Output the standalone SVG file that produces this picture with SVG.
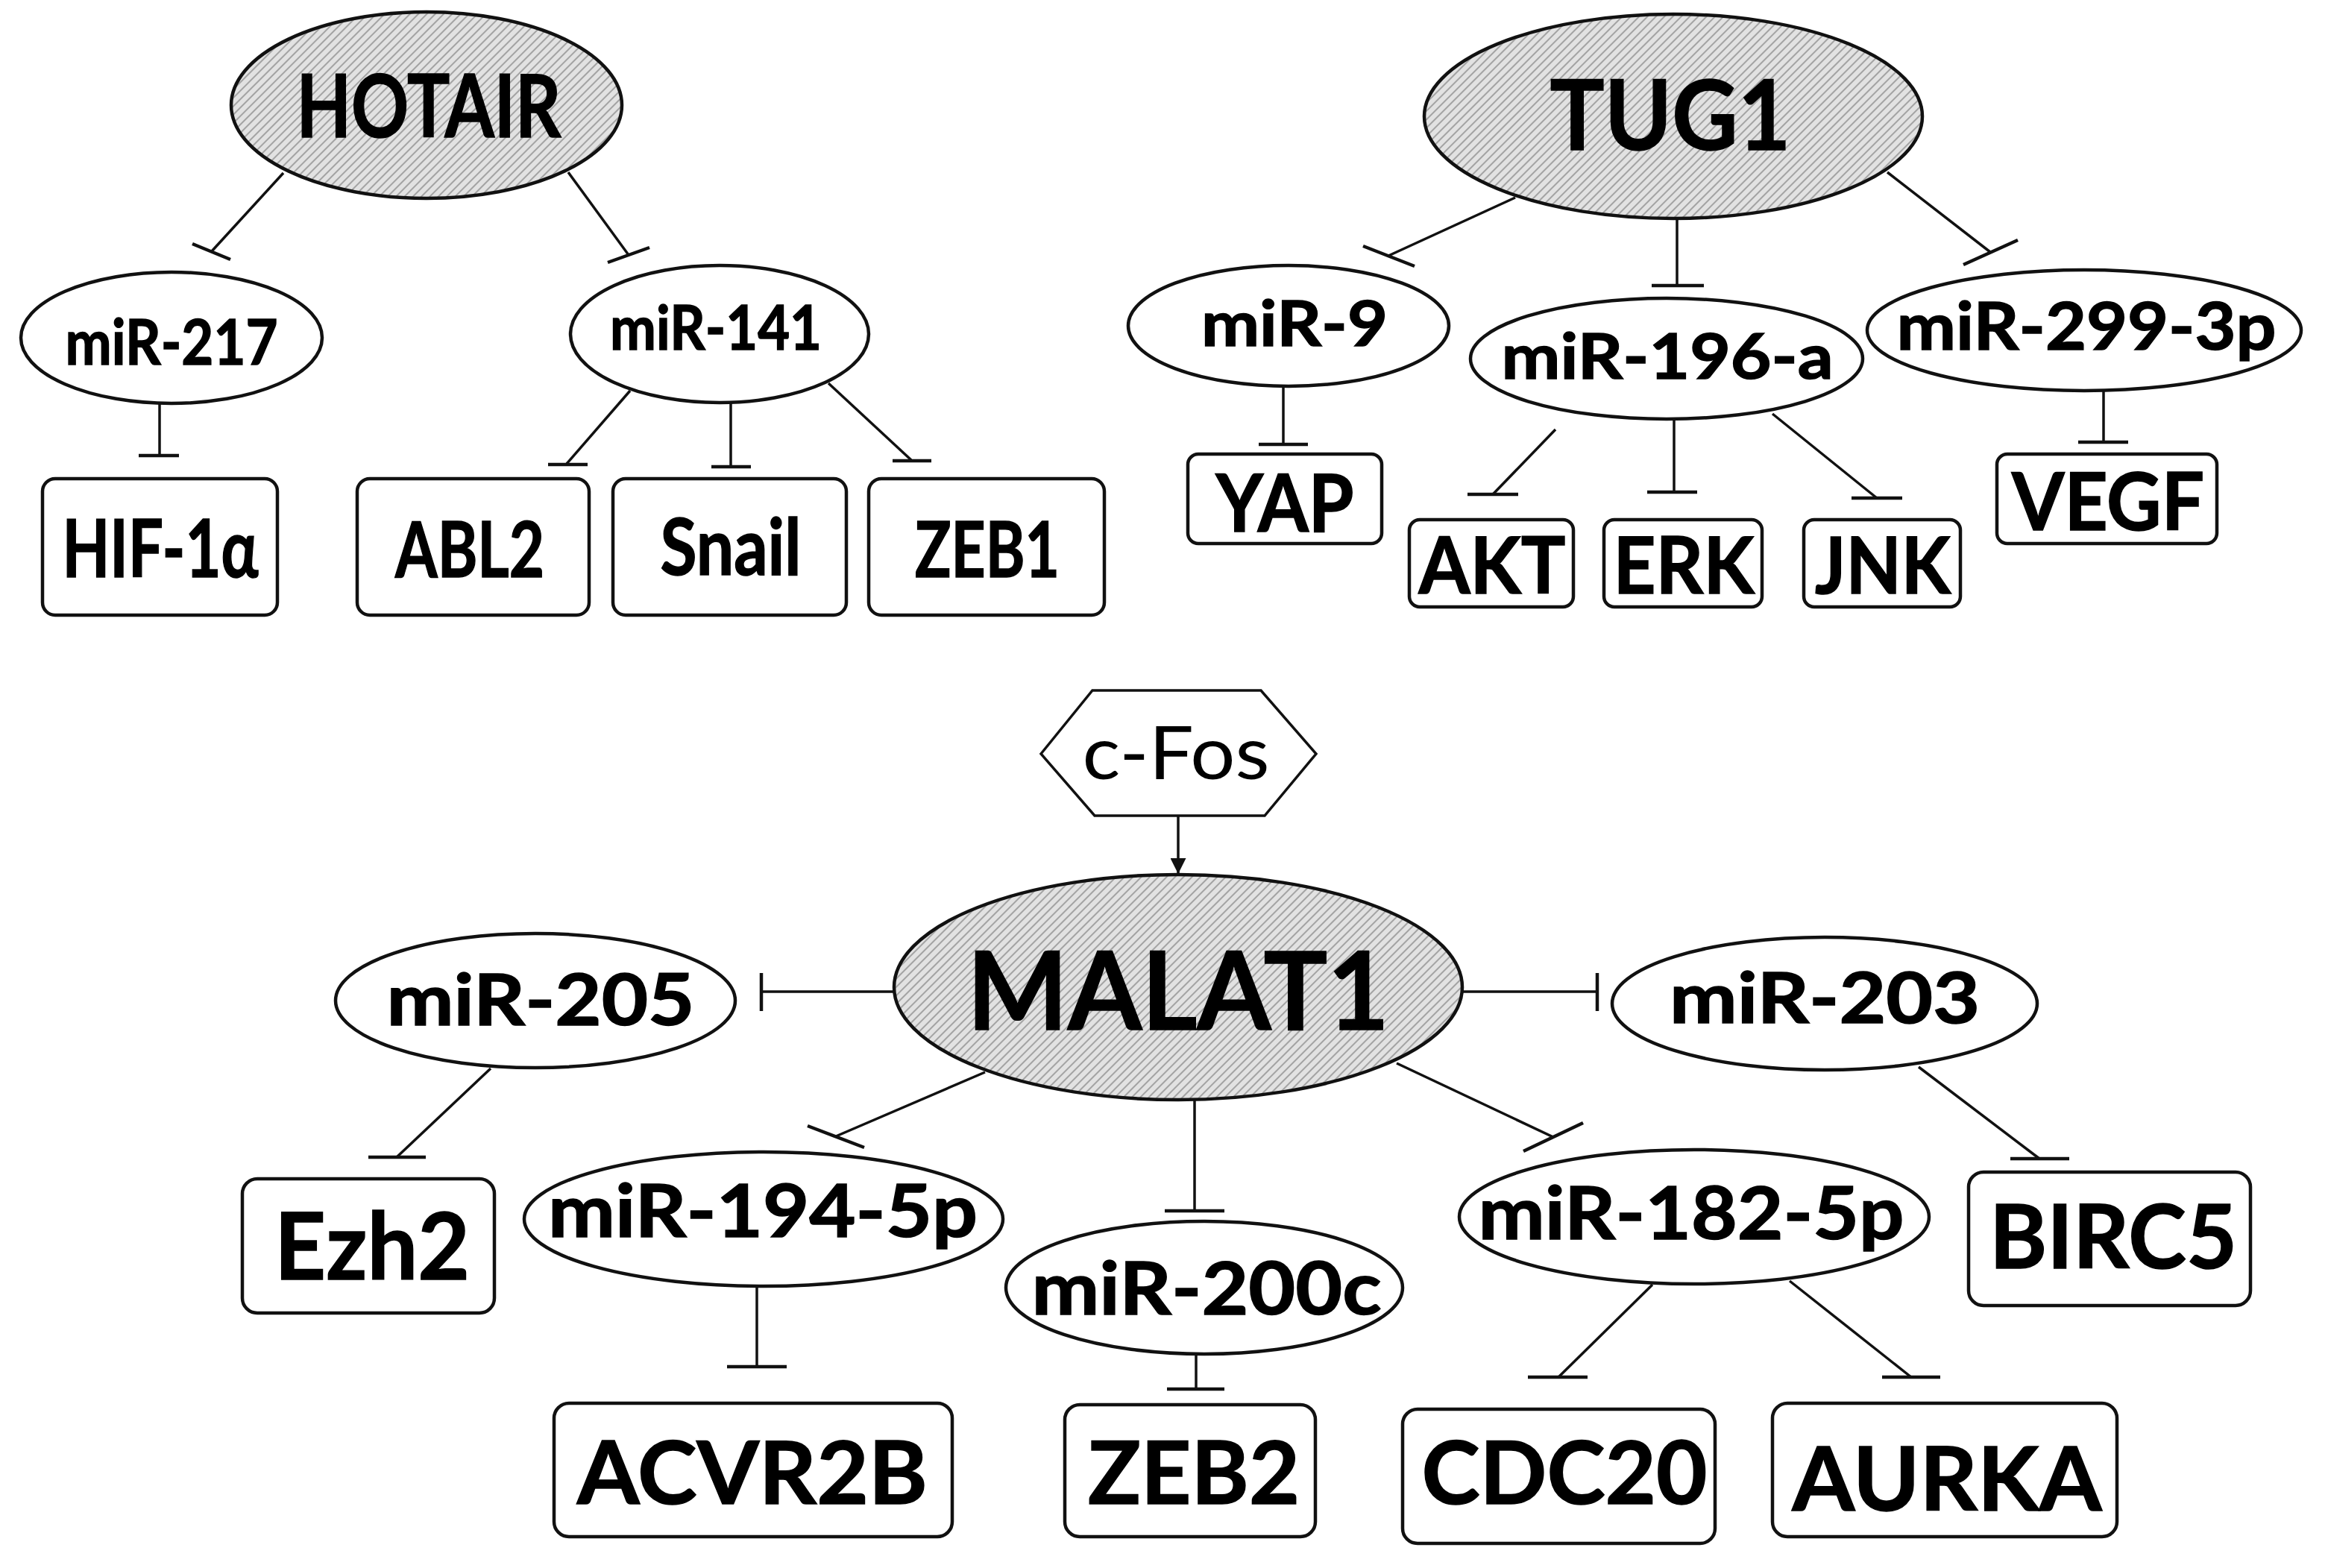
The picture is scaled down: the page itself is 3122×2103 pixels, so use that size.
<svg xmlns="http://www.w3.org/2000/svg" width="3122" height="2103" viewBox="0 0 3122 2103">
<defs>
<pattern id="hatch" width="8" height="8" patternUnits="userSpaceOnUse" patternTransform="rotate(45)">
<rect width="8" height="8" fill="#e2e2e2"/>
<line x1="2" y1="0" x2="2" y2="8" stroke="#9c9c9c" stroke-width="1.8"/>
</pattern>
<marker id="arrow" viewBox="0 0 10 10" refX="10" refY="5" markerWidth="6" markerHeight="6" markerUnits="strokeWidth" orient="auto">
<path d="M0,0 L10,5 L0,10 Z" fill="#111"/>
</marker>
</defs>
<style>
.lnc{fill:url(#hatch);stroke:#111;stroke-width:4.5}
.mir{fill:#fff;stroke:#111;stroke-width:4.5}
.box{fill:#fff;stroke:#111;stroke-width:4.5}
.t{font-family:Lato,"Liberation Sans","DejaVu Sans",sans-serif;font-weight:bold;fill:#000;text-anchor:middle;stroke:#000;stroke-width:1.5}
.r{font-family:Lato,"Liberation Sans","DejaVu Sans",sans-serif;font-weight:normal;fill:#000;text-anchor:middle}
.c line{stroke:#111;stroke-width:3.5;fill:none}
.c line.bar{stroke-width:4.5}
</style>
<rect width="3122" height="2103" fill="#fff"/>

<g class="c" id="connectors">
<line x1="380" y1="232" x2="283" y2="338"/><line class="bar" x1="258" y1="327" x2="309" y2="348"/>
<line x1="762" y1="231" x2="843" y2="342"/><line class="bar" x1="815" y1="352" x2="871" y2="332"/>
<line x1="214" y1="541" x2="214" y2="611"/><line class="bar" x1="186" y1="611" x2="240" y2="611"/>
<line x1="845" y1="524" x2="760" y2="622"/><line class="bar" x1="735" y1="623" x2="788" y2="623"/>
<line x1="980" y1="539" x2="980" y2="626"/><line class="bar" x1="954" y1="626" x2="1007" y2="626"/>
<line x1="1111" y1="514" x2="1222" y2="617"/><line class="bar" x1="1197" y1="618" x2="1249" y2="618"/>
<line x1="2032" y1="265" x2="1862" y2="343"/><line class="bar" x1="1828" y1="330" x2="1897" y2="357"/>
<line x1="2249" y1="293" x2="2249" y2="383"/><line class="bar" x1="2215" y1="383" x2="2285" y2="383"/>
<line x1="2531" y1="231" x2="2669" y2="338"/><line class="bar" x1="2633" y1="355" x2="2706" y2="322"/>
<line x1="1721" y1="518" x2="1721" y2="596"/><line class="bar" x1="1688" y1="596" x2="1754" y2="596"/>
<line x1="2086" y1="576" x2="2002" y2="663"/><line class="bar" x1="1968" y1="663" x2="2036" y2="663"/>
<line x1="2245" y1="561" x2="2245" y2="660"/><line class="bar" x1="2209" y1="660" x2="2276" y2="660"/>
<line x1="2377" y1="555" x2="2517" y2="668"/><line class="bar" x1="2483" y1="668" x2="2551" y2="668"/>
<line x1="2821" y1="524" x2="2821" y2="593"/><line class="bar" x1="2787" y1="593" x2="2854" y2="593"/>
<line x1="1580" y1="1094" x2="1580" y2="1172" marker-end="url(#arrow)"/>
<line x1="1199" y1="1330" x2="1021" y2="1330"/><line class="bar" x1="1021" y1="1305" x2="1021" y2="1356"/>
<line x1="1960" y1="1330" x2="2142" y2="1330"/><line class="bar" x1="2142" y1="1305" x2="2142" y2="1356"/>
<line x1="1321" y1="1438" x2="1121" y2="1524"/><line class="bar" x1="1083" y1="1510" x2="1159" y2="1539"/>
<line x1="1602" y1="1476" x2="1602" y2="1624"/><line class="bar" x1="1562" y1="1624" x2="1642" y2="1624"/>
<line x1="1873" y1="1426" x2="2083" y2="1525"/><line class="bar" x1="2043" y1="1544" x2="2123" y2="1506"/>
<line x1="658" y1="1433" x2="532" y2="1552"/><line class="bar" x1="494" y1="1552" x2="571" y2="1552"/>
<line x1="1015" y1="1725" x2="1015" y2="1833"/><line class="bar" x1="975" y1="1833" x2="1055" y2="1833"/>
<line x1="1604" y1="1817" x2="1604" y2="1863"/><line class="bar" x1="1565" y1="1863" x2="1642" y2="1863"/>
<line x1="2573" y1="1431" x2="2735" y2="1554"/><line class="bar" x1="2696" y1="1554" x2="2775" y2="1554"/>
<line x1="2216" y1="1723" x2="2090" y2="1847"/><line class="bar" x1="2049" y1="1847" x2="2129" y2="1847"/>
<line x1="2400" y1="1718" x2="2563" y2="1847"/><line class="bar" x1="2524" y1="1847" x2="2602" y2="1847"/>
</g>

<g id="HOTAIR"><ellipse class="lnc" cx="572" cy="141" rx="262" ry="125"/><text class="t" x="575" y="184" font-size="117" textLength="355" lengthAdjust="spacingAndGlyphs">HOTAIR</text></g>
<g id="TUG1"><ellipse class="lnc" cx="2244" cy="156" rx="334" ry="137"/><text class="t" x="2240" y="201" font-size="131" textLength="323" lengthAdjust="spacingAndGlyphs">TUG1</text></g>
<g id="MALAT1"><ellipse class="lnc" cx="1580" cy="1324" rx="381" ry="151"/><text class="t" x="1580" y="1381" font-size="145" textLength="566" lengthAdjust="spacingAndGlyphs">MALAT1</text></g>

<g id="miR-217"><ellipse class="mir" cx="230" cy="453" rx="202" ry="88"/><text class="t" x="230" y="489" font-size="84" textLength="285" lengthAdjust="spacingAndGlyphs">miR-217</text></g>
<g id="miR-141"><ellipse class="mir" cx="965" cy="448" rx="200" ry="92"/><text class="t" x="960" y="469" font-size="82" textLength="284" lengthAdjust="spacingAndGlyphs">miR-141</text></g>
<g id="miR-9"><ellipse class="mir" cx="1728" cy="437" rx="215" ry="81"/><text class="t" x="1736" y="464" font-size="84" textLength="250" lengthAdjust="spacingAndGlyphs">miR-9</text></g>
<g id="miR-196-a"><ellipse class="mir" cx="2235" cy="481" rx="263" ry="81"/><text class="t" x="2236" y="508" font-size="84" textLength="445" lengthAdjust="spacingAndGlyphs">miR-196-a</text></g>
<g id="miR-299-3p"><ellipse class="mir" cx="2795" cy="443" rx="291" ry="81"/><text class="t" x="2798" y="469" font-size="88" textLength="509" lengthAdjust="spacingAndGlyphs">miR-299-3p</text></g>
<g id="miR-205"><ellipse class="mir" cx="718" cy="1342" rx="268" ry="90"/><text class="t" x="725" y="1375" font-size="96" textLength="413" lengthAdjust="spacingAndGlyphs">miR-205</text></g>
<g id="miR-203"><ellipse class="mir" cx="2447" cy="1346" rx="285" ry="89"/><text class="t" x="2447" y="1372" font-size="94" textLength="416" lengthAdjust="spacingAndGlyphs">miR-203</text></g>
<g id="miR-194-5p"><ellipse class="mir" cx="1024" cy="1635" rx="321" ry="90"/><text class="t" x="1023" y="1659" font-size="97" textLength="576" lengthAdjust="spacingAndGlyphs">miR-194-5p</text></g>
<g id="miR-200c"><ellipse class="mir" cx="1615" cy="1727" rx="266" ry="89"/><text class="t" x="1618" y="1763" font-size="97" textLength="469" lengthAdjust="spacingAndGlyphs">miR-200c</text></g>
<g id="miR-182-5p"><ellipse class="mir" cx="2272" cy="1632" rx="315" ry="90"/><text class="t" x="2268" y="1662" font-size="97" textLength="571" lengthAdjust="spacingAndGlyphs">miR-182-5p</text></g>

<g id="HIF-1a"><rect class="box" x="57" y="642" width="315" height="183" rx="17"/><text class="t" x="215" y="774" font-size="107" textLength="263" lengthAdjust="spacingAndGlyphs">HIF-1α</text></g>
<g id="ABL2"><rect class="box" x="479" y="642" width="311" height="183" rx="17"/><text class="t" x="630" y="774" font-size="103" textLength="200" lengthAdjust="spacingAndGlyphs">ABL2</text></g>
<g id="Snail"><rect class="box" x="822" y="642" width="313" height="183" rx="17"/><text class="t" x="980" y="771" font-size="106" textLength="189" lengthAdjust="spacingAndGlyphs">Snail</text></g>
<g id="ZEB1"><rect class="box" x="1165" y="642" width="316" height="183" rx="17"/><text class="t" x="1324" y="774" font-size="103" textLength="194" lengthAdjust="spacingAndGlyphs">ZEB1</text></g>
<g id="YAP"><rect class="box" x="1593" y="609" width="260" height="120" rx="14"/><text class="t" x="1723" y="713" font-size="108" textLength="185" lengthAdjust="spacingAndGlyphs">YAP</text></g>
<g id="AKT"><rect class="box" x="1890" y="697" width="220" height="117" rx="14"/><text class="t" x="2001" y="796" font-size="106" textLength="197" lengthAdjust="spacingAndGlyphs">AKT</text></g>
<g id="ERK"><rect class="box" x="2151" y="697" width="212" height="117" rx="14"/><text class="t" x="2258" y="796" font-size="106" textLength="189" lengthAdjust="spacingAndGlyphs">ERK</text></g>
<g id="JNK"><rect class="box" x="2419" y="697" width="210" height="117" rx="14"/><text class="t" x="2525" y="796" font-size="106" textLength="182" lengthAdjust="spacingAndGlyphs">JNK</text></g>
<g id="VEGF"><rect class="box" x="2678" y="609" width="295" height="120" rx="14"/><text class="t" x="2827" y="711" font-size="108" textLength="258" lengthAdjust="spacingAndGlyphs">VEGF</text></g>
<g id="Ezh2"><rect class="box" x="325" y="1581" width="338" height="180" rx="20"/><text class="t" x="499" y="1716" font-size="125" textLength="262" lengthAdjust="spacingAndGlyphs">Ezh2</text></g>
<g id="BIRC5"><rect class="box" x="2640" y="1572" width="378" height="179" rx="20"/><text class="t" x="2834" y="1701" font-size="118" textLength="332" lengthAdjust="spacingAndGlyphs">BIRC5</text></g>
<g id="ACVR2B"><rect class="box" x="743" y="1882" width="534" height="179" rx="20"/><text class="t" x="1009" y="2017" font-size="116" textLength="470" lengthAdjust="spacingAndGlyphs">ACVR2B</text></g>
<g id="ZEB2"><rect class="box" x="1428" y="1884" width="336" height="177" rx="20"/><text class="t" x="1601" y="2017" font-size="116" textLength="284" lengthAdjust="spacingAndGlyphs">ZEB2</text></g>
<g id="CDC20"><rect class="box" x="1881" y="1890" width="419" height="180" rx="20"/><text class="t" x="2098" y="2017" font-size="116" textLength="383" lengthAdjust="spacingAndGlyphs">CDC20</text></g>
<g id="AURKA"><rect class="box" x="2377" y="1882" width="462" height="179" rx="20"/><text class="t" x="2611" y="2026" font-size="118" textLength="415" lengthAdjust="spacingAndGlyphs">AURKA</text></g>

<g id="c-Fos"><polygon points="1396,1011 1465,926 1691,926 1765,1011 1696,1094 1468,1094" fill="#fff" stroke="#111" stroke-width="3.5"/><text class="r" x="1577" y="1045" font-size="98" textLength="251" lengthAdjust="spacingAndGlyphs">c-Fos</text></g>
</svg>
